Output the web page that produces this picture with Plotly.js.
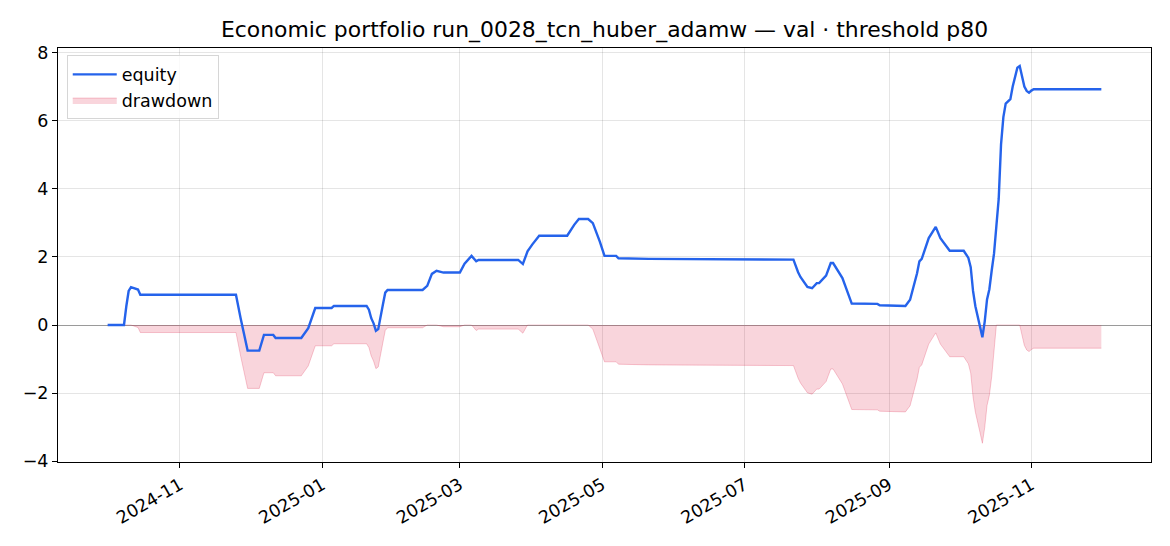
<!DOCTYPE html>
<html>
<head>
<meta charset="utf-8">
<script src="https://cdn.plot.ly/plotly-3.0.1.min.js"></script>
<style>
  html, body { margin: 0; padding: 0; background: #fff; }
  #chart { width: 1170px; height: 546px; }
</style>
</head>
<body>
<div id="chart"></div>
<script>
  // equity curve and drawdown
  var dates = [
    "2024-10-01", "2024-10-08", "2024-10-09", "2024-10-10", "2024-10-11",
    "2024-10-13", "2024-10-14", "2024-10-15", "2024-11-25", "2024-11-27",
    "2024-11-30", "2024-12-05", "2024-12-07", "2024-12-11", "2024-12-12",
    "2024-12-23", "2024-12-26", "2024-12-29", "2025-01-05", "2025-01-06",
    "2025-01-20", "2025-01-21", "2025-01-22", "2025-01-23", "2025-01-24",
    "2025-01-25", "2025-01-26", "2025-01-27", "2025-01-28", "2025-01-29",
    "2025-02-13", "2025-02-15", "2025-02-17", "2025-02-19", "2025-02-22",
    "2025-03-01", "2025-03-03", "2025-03-04", "2025-03-06", "2025-03-08",
    "2025-03-09", "2025-03-26", "2025-03-28", "2025-03-30", "2025-04-01",
    "2025-04-04", "2025-04-16", "2025-04-19", "2025-04-21", "2025-04-25",
    "2025-04-27", "2025-04-30", "2025-05-02", "2025-05-07", "2025-05-08",
    "2025-05-21", "2025-07-01", "2025-07-02", "2025-07-22", "2025-07-24",
    "2025-07-25", "2025-07-28", "2025-07-30", "2025-08-01", "2025-08-02",
    "2025-08-05", "2025-08-07", "2025-08-08", "2025-08-12", "2025-08-16",
    "2025-08-27", "2025-08-28", "2025-09-08", "2025-09-10", "2025-09-13",
    "2025-09-14", "2025-09-15", "2025-09-18", "2025-09-21", "2025-09-23",
    "2025-09-24", "2025-09-27", "2025-10-03", "2025-10-05", "2025-10-06",
    "2025-10-07", "2025-10-08", "2025-10-09", "2025-10-10", "2025-10-11",
    "2025-10-12", "2025-10-13", "2025-10-14", "2025-10-15", "2025-10-16",
    "2025-10-17", "2025-10-18", "2025-10-19", "2025-10-20", "2025-10-21",
    "2025-10-22", "2025-10-23", "2025-10-24", "2025-10-25", "2025-10-26",
    "2025-10-27", "2025-10-28", "2025-10-29", "2025-10-30", "2025-10-31",
    "2025-11-01", "2025-11-02", "2025-12-01"
  ];

  var equity = [
    0, 0, 0.55, 1.0, 1.11,
    1.06, 1.04, 0.89, 0.89, 0.2,
    -0.75, -0.75, -0.29, -0.29, -0.38,
    -0.38, -0.09, 0.50, 0.50, 0.56,
    0.56, 0.45, 0.2, 0.05, -0.17,
    -0.12, 0.3, 0.6, 0.95, 1.03,
    1.03, 1.15, 1.50, 1.59, 1.54,
    1.54, 1.80, 1.87, 2.03, 1.87,
    1.91, 1.91, 1.79, 2.16, 2.36,
    2.62, 2.62, 2.94, 3.11, 3.11,
    2.99, 2.45, 2.03, 2.03, 1.96,
    1.94, 1.94, 1.92, 1.92, 1.55,
    1.41, 1.12, 1.08, 1.23, 1.23,
    1.45, 1.82, 1.82, 1.38, 0.63,
    0.62, 0.58, 0.56, 0.74, 1.52,
    1.87, 1.94, 2.55, 2.88, 2.55,
    2.45, 2.18, 2.18, 1.97, 1.7,
    1.0, 0.55, 0.2, -0.05, -0.36,
    0.1, 0.75, 1.05, 1.6, 2.1,
    2.9, 3.7, 5.3, 6.1, 6.5,
    6.58, 6.63, 7.0, 7.3, 7.55,
    7.6, 7.3, 7.0, 6.87, 6.82,
    6.88, 6.92, 6.92
  ];

  var drawdown = [
    0, 0, 0, 0, 0,
    -0.05, -0.07, -0.22, -0.22, -0.91,
    -1.86, -1.86, -1.40, -1.40, -1.49,
    -1.49, -1.20, -0.61, -0.61, -0.55,
    -0.55, -0.66, -0.91, -1.06, -1.28,
    -1.23, -0.81, -0.51, -0.16, -0.08,
    -0.08, 0, 0, 0, -0.05,
    -0.05, 0, 0, 0, -0.16,
    -0.12, -0.12, -0.24, 0, 0,
    0, 0, 0, 0, 0,
    -0.12, -0.66, -1.08, -1.08, -1.15,
    -1.17, -1.17, -1.19, -1.19, -1.56,
    -1.70, -1.99, -2.03, -1.88, -1.88,
    -1.66, -1.29, -1.29, -1.73, -2.48,
    -2.49, -2.53, -2.55, -2.37, -1.59,
    -1.24, -1.17, -0.56, -0.23, -0.56,
    -0.66, -0.93, -0.93, -1.14, -1.41,
    -2.11, -2.56, -2.91, -3.16, -3.47,
    -3.01, -2.36, -2.06, -1.51, -0.78,
    0, 0, 0, 0, 0,
    0, 0, 0, 0, 0,
    0, -0.3, -0.6, -0.73, -0.78,
    -0.72, -0.68, -0.68
  ];

  var yTicks = [-4, -2, 0, 2, 4, 6, 8];

  var data = [
    {
      type: "scatter",
      mode: "lines",
      name: "drawdown",
      x: dates,
      y: drawdown,
      fill: "tozeroy",
      fillcolor: "rgba(220, 20, 60, 0.18)",
      line: { color: "rgba(220, 20, 60, 0.22)", width: 1 },
      hoverinfo: "none",
    },
    {
      type: "scatter",
      mode: "lines",
      name: "equity",
      x: dates,
      y: equity,
      line: { color: "#2563eb", width: 2.4 },
      hoverinfo: "none",
    },
  ];

  var layout = {
    width: 1170,
    height: 546,
    paper_bgcolor: "#fff",
    plot_bgcolor: "#fff",
    font: { family: "DejaVu Sans", size: 17, color: "#000" },
    margin: { l: 58, r: 19, t: 48, b: 84 },
    title: {
      text: "Economic portfolio run_0028_tcn_huber_adamw — val · threshold p80",
      font: { family: "DejaVu Sans", size: 21.9, color: "#000" },
      x: 0.5,
      xref: "paper",
      y: 0.947,
      yref: "container",
      yanchor: "middle",
    },
    showlegend: true,
    legend: {
      x: 0.008,
      y: 0.982,
      xanchor: "left",
      yanchor: "top",
      traceorder: "reversed",
      itemwidth: 44,
      bgcolor: "rgba(255,255,255,0.8)",
      bordercolor: "#d6d6d6",
      borderwidth: 1,
      font: { family: "DejaVu Sans", size: 17.5 },
    },
    xaxis: {
      type: "date",
      range: ["2024-09-09 17:00", "2025-12-22 07:00"],
      tick0: "2024-11-01",
      dtick: "M2",
      tickformat: "%Y-%m",
      tickangle: -30,
      ticks: "outside",
      ticklen: 5,
      tickcolor: "#000",
      showline: true,
      linecolor: "#000",
      linewidth: 1,
      mirror: true,
      showgrid: true,
      gridcolor: "rgba(0,0,0,0.1)",
      zeroline: false,
      tickfont: { family: "DejaVu Sans", size: 17.5 },
    },
    yaxis: {
      range: [-4.02, 8.13],
      tickvals: yTicks,
      ticks: "outside",
      ticklen: 5,
      tickcolor: "#000",
      showline: true,
      linecolor: "#000",
      linewidth: 1,
      mirror: true,
      showgrid: true,
      gridcolor: "rgba(0,0,0,0.1)",
      zeroline: true,
      zerolinecolor: "#9a9a9a",
      zerolinewidth: 1,
      tickfont: { family: "DejaVu Sans", size: 17.5 },
    },
  };

  Plotly.newPlot("chart", data, layout, { displayModeBar: false, staticPlot: true });
</script>
</body>
</html>
